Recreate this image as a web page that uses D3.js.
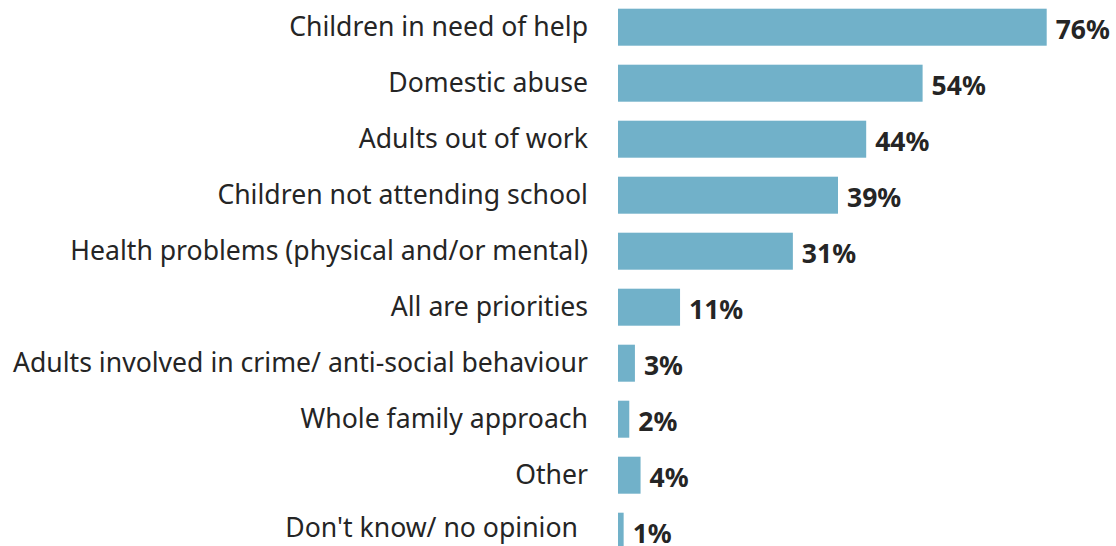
<!DOCTYPE html>
<html>
<head>
<meta charset="utf-8">
<script src="https://cdn.jsdelivr.net/npm/d3@7"></script>
<style>
  html, body { margin: 0; padding: 0; background: #fff; }
  svg { display: block; }
</style>
</head>
<body>
<svg id="chart" width="1116" height="546"></svg>
<script>
// Priority areas and share of respondents (%)
const categories = [
  "Children in need of help",
  "Domestic abuse",
  "Adults out of work",
  "Children not attending school",
  "Health problems (physical and/or mental)",
  "All are priorities",
  "Adults involved in crime/ anti-social behaviour",
  "Whole family approach",
  "Other",
  "Don't know/ no opinion"
];
const values = [76, 54, 44, 39, 31, 11, 3, 2, 4, 1];

const svg = d3.select("#chart");
const barLeft = 618;
const barTop = 8.7;
const step = 56;
const barH = 37;
const pad = (step - barH) / step;

const x = d3.scaleLinear().domain([0, 76]).range([barLeft, 1046.7]);
// band scale with outer padding = half of inner, so step is exactly `step`
const y = d3.scaleBand()
  .domain(categories)
  .range([barTop - step * pad / 2, barTop - step * pad / 2 + step * categories.length])
  .paddingInner(pad)
  .paddingOuter(pad / 2);

const last = categories.length - 1;

const rows = svg.selectAll("g.row")
  .data(categories.map((c, i) => ({ c, v: values[i], i })))
  .join("g")
  .attr("class", "row");

rows.append("rect")
  .attr("x", x(0))
  .attr("y", d => y(d.c))
  .attr("width", d => x(d.v) - x(0))
  .attr("height", y.bandwidth())
  .attr("fill", "#71b1c9");

// category labels; the bottom row sits slightly higher and further left
rows.append("text")
  .attr("x", d => d.i === last ? 578 : 588)
  .attr("y", d => y(d.c) + y.bandwidth() / 2 + (d.i === last ? 6 : 9))
  .attr("text-anchor", "end")
  .attr("font-family", "'Noto Sans', 'Open Sans', sans-serif")
  .attr("font-size", 26.6)
  .attr("fill", "#252525")
  .text(d => d.c);

rows.append("text")
  .attr("x", d => x(d.v) + 9)
  .attr("y", d => y(d.c) + y.bandwidth() / 2 + 11.5)
  .attr("font-family", "'Noto Sans', 'Open Sans', sans-serif")
  .attr("font-weight", "bold")
  .attr("font-size", 26.5)
  .attr("fill", "#252525")
  .text(d => d.v + "%");
</script>
</body>
</html>
